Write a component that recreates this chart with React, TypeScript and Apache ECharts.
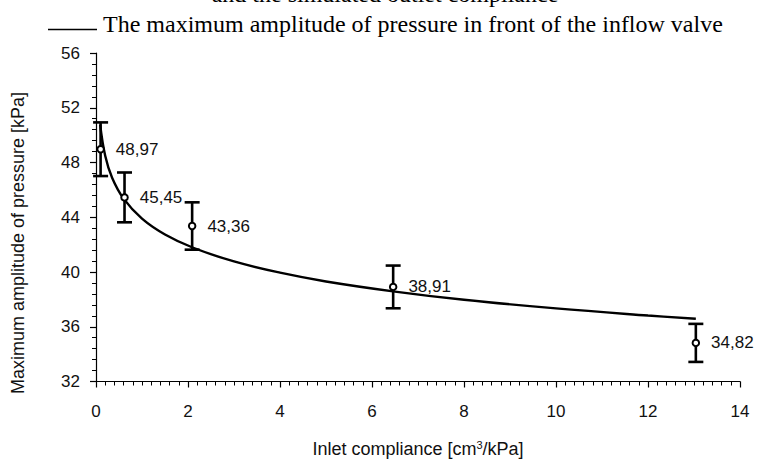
import React, { useEffect, useRef } from "react";
import * as echarts from "echarts";

// Measured points: inlet compliance [cm3/kPa] vs. max pressure amplitude [kPa]
const complianceX = [0.1, 0.62, 2.09, 6.46, 13.04];
const amplitude = [48.97, 45.45, 43.36, 38.91, 34.82];
const amplitudeError = [1.96, 1.82, 1.73, 1.56, 1.39];

// Logarithmic trend line, sampled along the curve
const trendX = [0.09, 0.2, 0.35, 0.6, 1, 1.5, 2.1, 3, 4, 5, 6.5, 8, 10, 12, 13.04];
const trendY = [50.76, 48.49, 46.89, 45.36, 43.9, 42.74, 41.79, 40.77, 39.95, 39.31, 38.57, 37.97, 37.34, 36.82, 36.58];

const xRange = { min: 0, max: 14, interval: 2 };
const yRange = { min: 32, max: 56, interval: 4 };

const titleLine = "and the simulated outlet compliance";
const seriesName = "The maximum amplitude of pressure in front of the inflow valve";
const xTitle = "Inlet compliance [cm";
const yTitle = "Maximum amplitude of pressure [kPa]";

const SANS = "'Liberation Sans', Arial, sans-serif";
const SERIF = "'Liberation Serif', 'Times New Roman', serif";
const INK = "#000";

export default function App() {
  const ref = useRef<HTMLDivElement>(null);

  useEffect(() => {
    if (!ref.current) return;
    const chart = echarts.init(ref.current, null, { renderer: "svg" });

    const points = complianceX.map((x, i) => [x, amplitude[i]]);
    const bars = complianceX.map((x, i) => [x, amplitude[i] - amplitudeError[i], amplitude[i] + amplitudeError[i]]);
    const trend = trendX.map((x, i) => [x, trendY[i]]);

    const axisCommon = {
      axisLine: { show: true, onZero: false, lineStyle: { color: INK, width: 1.2 } },
      axisTick: { show: true, inside: false, length: 6, lineStyle: { color: INK, width: 1.2 } },
      minorTick: { show: true, length: 4, lineStyle: { color: INK, width: 1 } },
      splitLine: { show: false },
      axisLabel: { color: "#111", fontSize: 17, fontFamily: SANS },
    };

    chart.setOption({
      animation: false,
      backgroundColor: "#fff",
      grid: { left: 96, right: 17, top: 53, bottom: 81, containLabel: false },
      xAxis: {
        type: "value",
        ...xRange,
        ...axisCommon,
        minorTick: { ...axisCommon.minorTick, splitNumber: 10 },
        axisLabel: { ...axisCommon.axisLabel, margin: 21 },
        name: "{t|" + xTitle + "}{s|3}{t|/kPa]}",
        nameLocation: "middle",
        nameGap: 58,
        nameTextStyle: {
          rich: {
            t: { fontSize: 18, fontFamily: SANS, color: "#111" },
            s: { fontSize: 11, fontFamily: SANS, color: "#111", verticalAlign: "top", padding: [0, 0, 8, 0] },
          },
        },
      },
      yAxis: {
        type: "value",
        ...yRange,
        ...axisCommon,
        minorTick: { ...axisCommon.minorTick, splitNumber: 5 },
        axisLabel: { ...axisCommon.axisLabel, margin: 16 },
      },
      graphic: [
        {
          type: "text",
          x: 385,
          y: -6,
          style: { text: titleLine, font: "24px " + SERIF, fill: INK, align: "center", verticalAlign: "middle" },
        },
        {
          type: "line",
          shape: { x1: 48, y1: 29.5, x2: 97, y2: 29.5 },
          style: { stroke: INK, lineWidth: 1.3 },
        },
        {
          type: "text",
          x: 103,
          y: 23.5,
          style: { text: seriesName, font: "24px " + SERIF, fill: INK, align: "left", verticalAlign: "middle" },
        },
        {
          type: "text",
          x: 18,
          y: 243,
          rotation: Math.PI / 2,
          style: { text: yTitle, font: "18px " + SANS, fill: "#111", align: "center", verticalAlign: "middle" },
        },
      ],
      series: [
        {
          name: seriesName,
          type: "line",
          data: trend,
          smooth: 0.4,
          symbol: "none",
          lineStyle: { color: INK, width: 2.4 },
          z: 2,
        },
        {
          type: "custom",
          data: bars,
          z: 3,
          renderItem: (params: any, api: any) => {
            const x = api.value(0);
            const top = api.coord([x, api.value(2)]);
            const bot = api.coord([x, api.value(1)]);
            const hw = 7.5;
            const style = { stroke: INK, lineWidth: 2.6 };
            return {
              type: "group",
              children: [
                { type: "line", shape: { x1: top[0], y1: top[1], x2: bot[0], y2: bot[1] }, style },
                { type: "line", shape: { x1: top[0] - hw, y1: top[1], x2: top[0] + hw, y2: top[1] }, style },
                { type: "line", shape: { x1: bot[0] - hw, y1: bot[1], x2: bot[0] + hw, y2: bot[1] }, style },
              ],
            };
          },
        },
        {
          type: "scatter",
          data: points,
          symbol: "circle",
          symbolSize: 6.5,
          z: 4,
          itemStyle: { color: "#fff", borderColor: INK, borderWidth: 2, opacity: 1 },
          label: {
            show: true,
            position: "right",
            distance: 11,
            color: "#111",
            fontSize: 17,
            fontFamily: SANS,
            formatter: (p: any) => p.value[1].toFixed(2).replace(".", ","),
          },
        },
      ],
    });

    return () => chart.dispose();
  }, []);

  return <div ref={ref} style={{ width: 757, height: 463, position: "absolute", left: 0, top: 0 }} />;
}
